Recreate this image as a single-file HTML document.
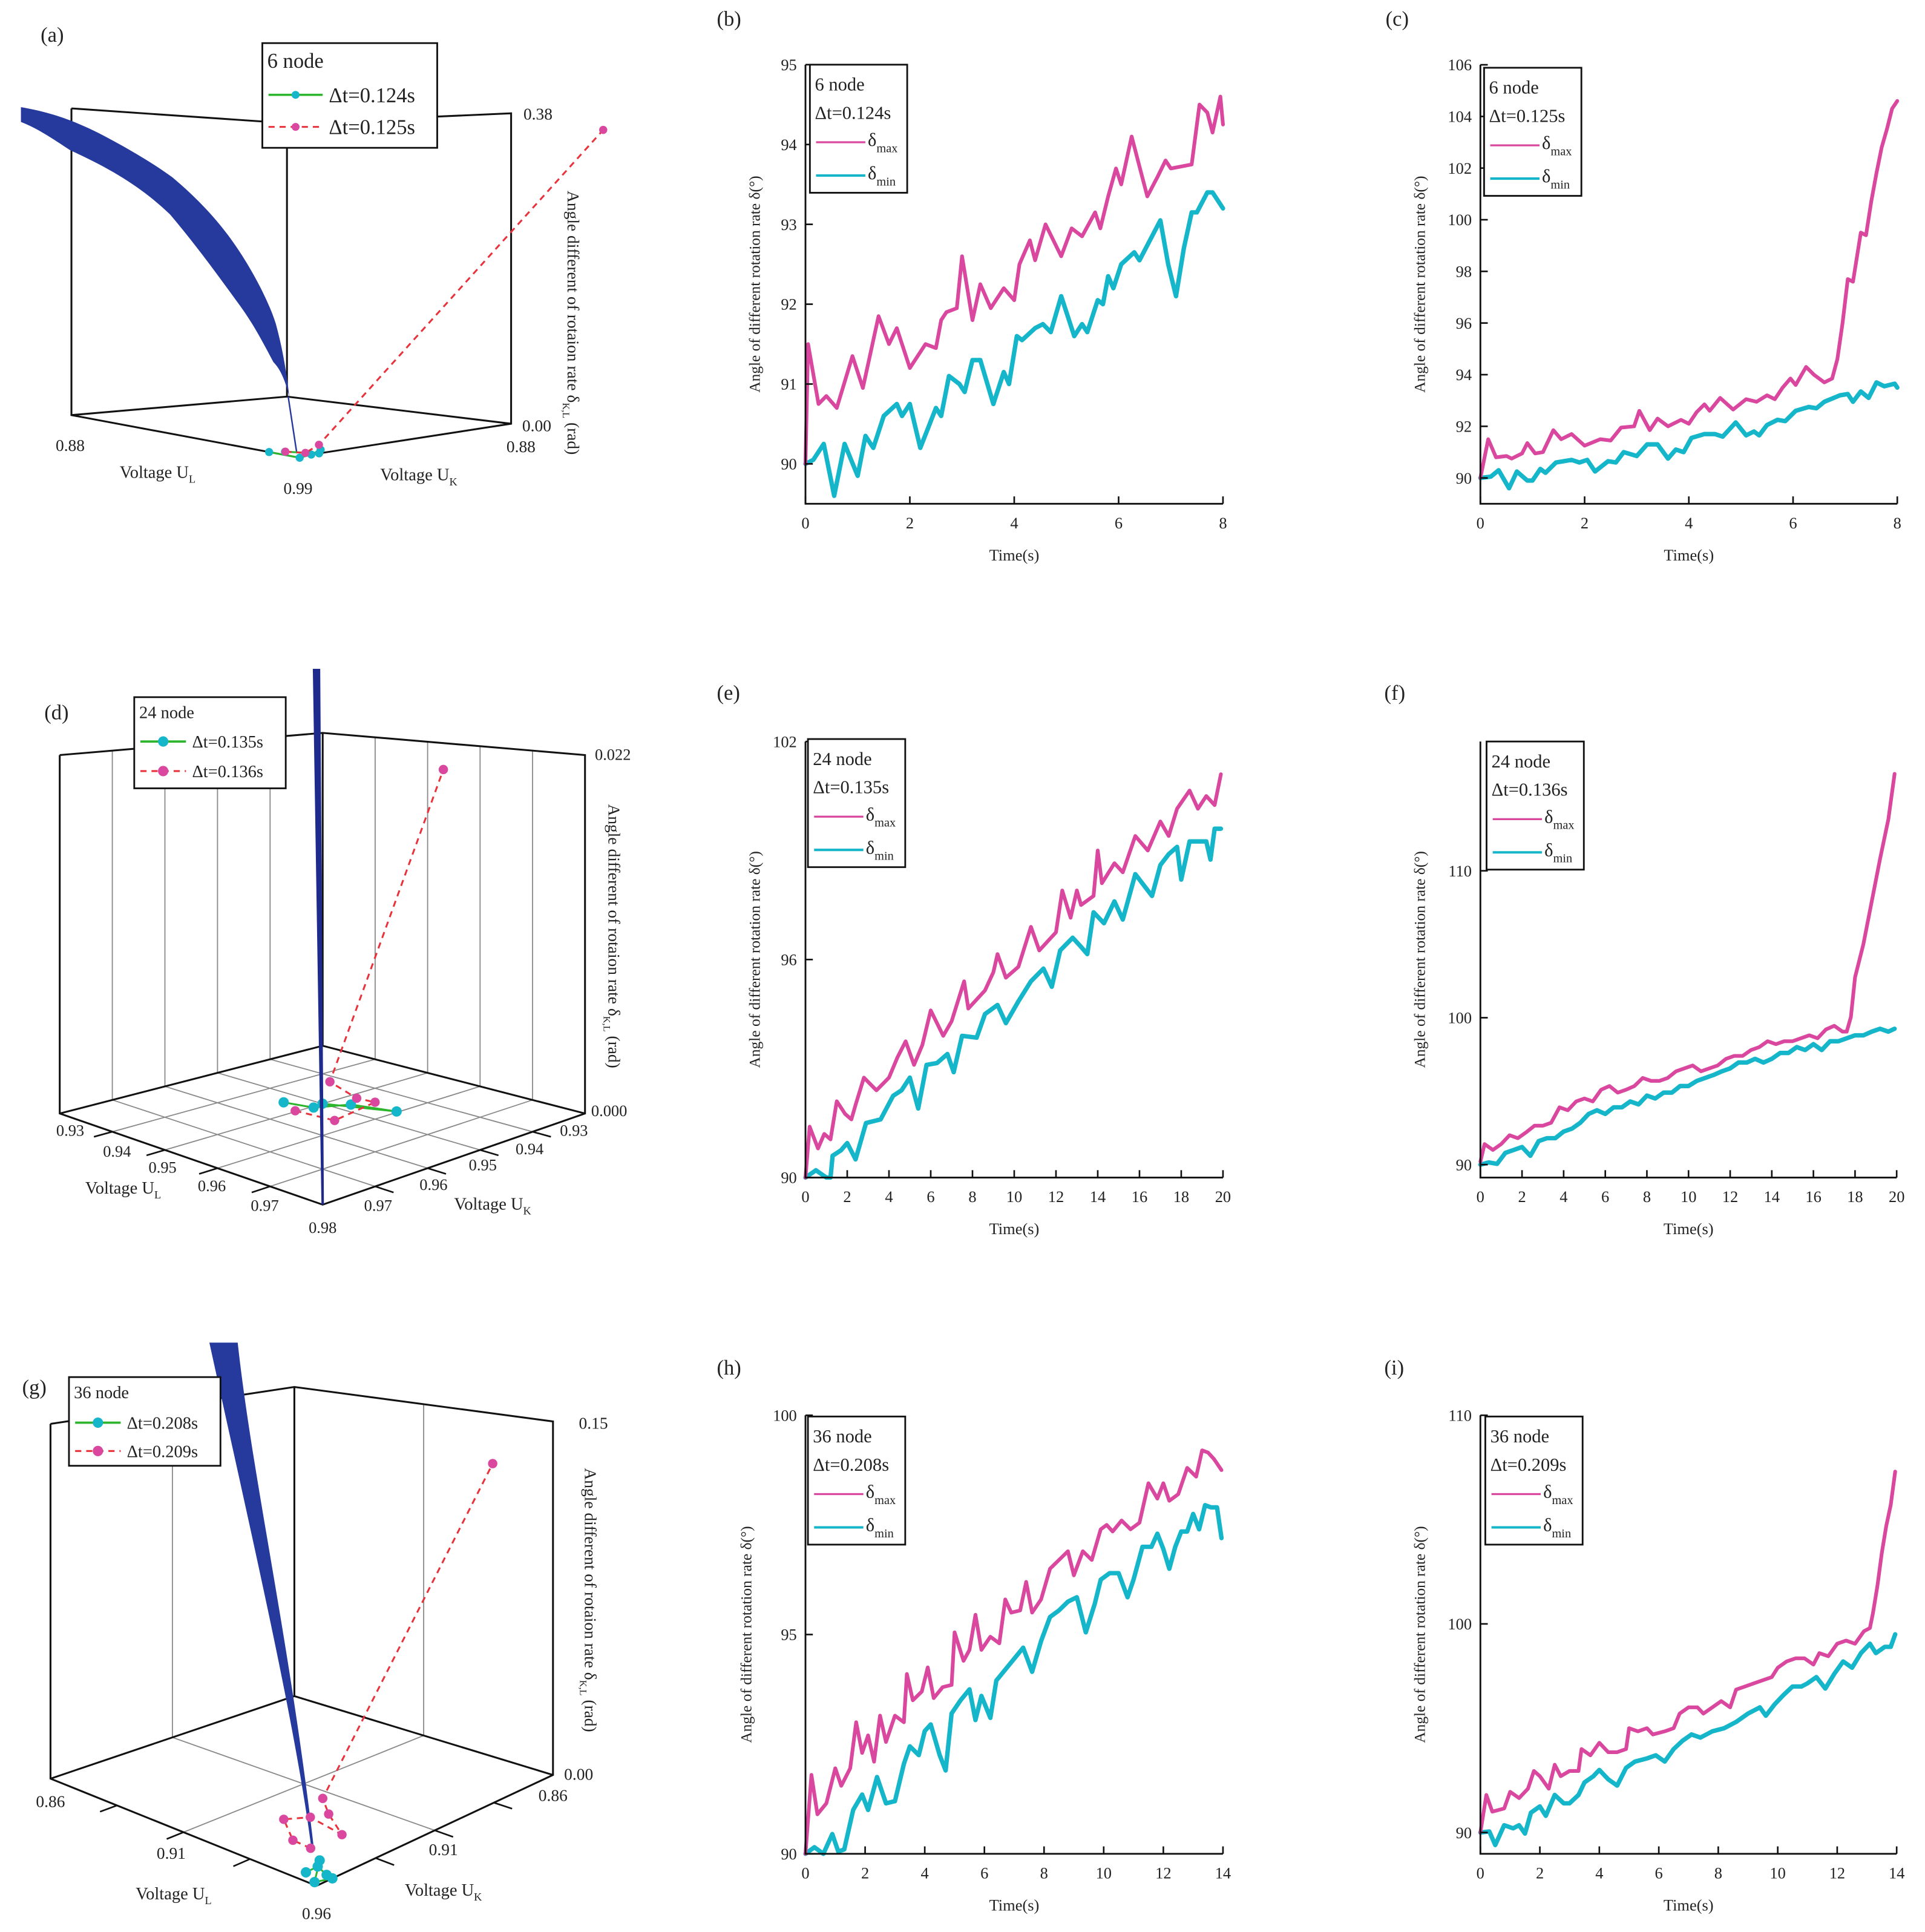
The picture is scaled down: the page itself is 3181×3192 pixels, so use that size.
<!DOCTYPE html>
<html><head><meta charset="utf-8"><style>
html,body{margin:0;padding:0;background:#fff}
svg{display:block;font-family:"Liberation Serif",serif}
</style></head><body>
<svg id="fig" xmlns="http://www.w3.org/2000/svg" width="3181" height="3192" viewBox="0 0 1563 1568.5" preserveAspectRatio="none">
<rect width="1563" height="1568.5" fill="#fff"/>
</svg>
<script>
// ---------- 2D chart data ----------
const bMaxT=[0,0.05,0.25,0.4,0.6,0.9,1.1,1.4,1.6,1.75,2.0,2.3,2.5,2.6,2.7,2.9,3.0,3.2,3.35,3.55,3.8,4.0,4.1,4.3,4.4,4.6,4.9,5.1,5.3,5.55,5.65,5.8,5.95,6.05,6.25,6.55,6.75,6.9,7.0,7.4,7.55,7.7,7.8,7.95,8.0];
const bMaxV=[90.0,91.5,90.75,90.85,90.7,91.35,90.95,91.85,91.5,91.7,91.2,91.5,91.45,91.8,91.9,91.95,92.6,91.8,92.25,91.95,92.2,92.05,92.5,92.8,92.55,93.0,92.6,92.95,92.85,93.15,92.95,93.35,93.7,93.5,94.1,93.35,93.6,93.8,93.7,93.75,94.5,94.4,94.15,94.6,94.25];
const bMinT=[0,0.15,0.35,0.55,0.75,1.0,1.15,1.3,1.5,1.75,1.85,2.0,2.2,2.5,2.6,2.75,2.95,3.05,3.2,3.35,3.6,3.8,3.9,4.05,4.15,4.4,4.55,4.7,4.9,5.15,5.3,5.4,5.6,5.7,5.8,5.9,6.05,6.3,6.4,6.6,6.8,6.95,7.1,7.25,7.4,7.5,7.7,7.8,8.0];
const bMinV=[90,90.05,90.25,89.6,90.25,89.85,90.35,90.2,90.6,90.75,90.6,90.75,90.2,90.7,90.6,91.1,91.0,90.9,91.3,91.3,90.75,91.15,91.0,91.6,91.55,91.7,91.75,91.65,92.1,91.6,91.75,91.65,92.05,92.0,92.35,92.2,92.5,92.65,92.55,92.8,93.05,92.5,92.1,92.7,93.15,93.15,93.4,93.4,93.2];

const cMaxT=[0,0.15,0.3,0.5,0.6,0.8,0.9,1.05,1.2,1.4,1.55,1.75,2.0,2.3,2.5,2.7,2.95,3.05,3.25,3.4,3.6,3.85,4.0,4.15,4.3,4.4,4.6,4.85,5.1,5.3,5.5,5.65,5.8,5.95,6.05,6.25,6.4,6.6,6.75,6.85,6.95,7.05,7.15,7.3,7.4,7.5,7.6,7.7,7.8,7.9,8.0];
const cMaxV=[90.0,91.5,90.8,90.85,90.75,90.95,91.35,90.95,91.0,91.85,91.5,91.7,91.25,91.5,91.45,91.95,92.0,92.6,91.85,92.3,92.0,92.25,92.1,92.55,92.85,92.6,93.1,92.65,93.05,92.95,93.2,93.05,93.5,93.85,93.6,94.3,94.0,93.7,93.85,94.6,96.0,97.7,97.6,99.5,99.4,100.7,101.8,102.8,103.5,104.3,104.6];
const cMinT=[0,0.2,0.35,0.55,0.7,0.9,1.0,1.15,1.25,1.45,1.75,1.9,2.05,2.2,2.45,2.6,2.75,3.0,3.2,3.4,3.6,3.75,3.9,4.05,4.3,4.5,4.65,4.9,5.1,5.25,5.35,5.5,5.7,5.85,6.05,6.3,6.45,6.6,6.9,7.05,7.15,7.3,7.45,7.6,7.75,7.95,8.0];
const cMinV=[90,90.05,90.3,89.6,90.25,89.9,89.9,90.35,90.2,90.6,90.7,90.6,90.7,90.25,90.65,90.6,91.0,90.85,91.3,91.3,90.75,91.1,91.0,91.55,91.7,91.7,91.6,92.15,91.65,91.8,91.65,92.05,92.25,92.2,92.6,92.75,92.7,92.95,93.2,93.25,92.95,93.35,93.1,93.7,93.55,93.65,93.5];

const eMaxT=[0,0.2,0.6,0.9,1.2,1.5,1.9,2.2,2.4,2.8,3.4,4.0,4.4,4.8,5.2,5.6,6.0,6.6,7.0,7.6,7.8,8.6,9.0,9.2,9.6,10.2,10.8,11.2,12.0,12.3,12.7,13.0,13.2,13.8,14.0,14.2,14.8,15.2,15.8,16.4,17.0,17.4,17.8,18.4,18.8,19.2,19.6,19.9];
const eMaxV=[90.0,91.4,90.8,91.2,91.05,92.1,91.75,91.6,92.0,92.75,92.4,92.75,93.3,93.75,93.1,93.65,94.6,93.9,94.3,95.4,94.65,95.15,95.65,96.15,95.5,95.8,96.9,96.25,96.75,97.9,97.15,97.9,97.5,97.75,99.0,98.1,98.65,98.4,99.4,99.0,99.8,99.4,100.15,100.65,100.15,100.5,100.25,101.1];
const eMinT=[0,0.5,1.0,1.2,1.3,1.7,2.0,2.4,2.9,3.6,4.2,4.6,5.0,5.4,5.8,6.3,6.8,7.1,7.5,8.2,8.6,9.2,9.6,10.2,10.8,11.4,11.8,12.2,12.8,13.2,13.5,13.8,14.3,14.8,15.2,15.8,16.4,16.6,17.0,17.4,17.8,18.0,18.4,18.8,19.2,19.4,19.6,19.9];
const eMinV=[90,90.2,90.0,90.0,90.6,90.75,90.95,90.5,91.5,91.6,92.25,92.4,92.75,91.9,93.1,93.15,93.4,92.9,93.9,93.85,94.5,94.75,94.25,94.85,95.4,95.75,95.25,96.25,96.6,96.35,96.15,97.3,97.0,97.6,97.1,98.35,97.9,97.75,98.6,98.9,99.1,98.2,99.25,99.25,99.25,98.75,99.6,99.6];

const fMaxT=[0,0.2,0.6,1.0,1.4,1.8,2.2,2.6,3.0,3.4,3.8,4.2,4.6,5.0,5.4,5.8,6.2,6.6,7.0,7.4,7.8,8.2,8.6,9.0,9.4,9.8,10.2,10.6,11.0,11.4,11.8,12.2,12.6,13.0,13.4,13.8,14.2,14.6,15.0,15.4,15.8,16.2,16.6,17.0,17.4,17.6,17.8,18.0,18.4,18.8,19.2,19.6,19.9];
const fMaxV=[90.2,91.4,91.0,91.4,92.0,91.8,92.2,92.65,92.65,92.85,93.9,93.7,94.3,94.5,94.3,95.1,95.35,94.9,95.1,95.35,95.9,95.7,95.7,95.9,96.35,96.55,96.75,96.35,96.55,96.75,97.2,97.4,97.4,97.8,98.0,98.4,98.2,98.4,98.4,98.6,98.8,98.6,99.2,99.45,99.05,99.05,100.05,102.75,105.0,107.9,110.8,113.5,116.6];
const fMinT=[0,0.4,0.8,1.2,1.6,2.0,2.4,2.8,3.2,3.6,4.0,4.4,4.8,5.2,5.6,6.0,6.4,6.8,7.2,7.6,8.0,8.4,8.8,9.2,9.6,10.0,10.4,10.8,11.2,11.6,12.0,12.4,12.8,13.2,13.6,14.0,14.4,14.8,15.2,15.6,16.0,16.4,16.8,17.2,17.6,18.0,18.4,18.8,19.2,19.6,19.9];
const fMinV=[90.0,90.15,90.05,90.8,91.0,91.2,90.6,91.6,91.8,91.8,92.25,92.45,92.85,93.45,93.7,93.45,93.9,93.9,94.3,94.1,94.7,94.5,94.9,94.9,95.35,95.35,95.7,95.9,96.1,96.35,96.55,96.95,96.95,97.2,96.95,97.2,97.6,97.6,98.0,97.8,98.2,97.8,98.4,98.4,98.6,98.8,98.8,99.05,99.25,99.05,99.25];

const hMaxT=[0,0.2,0.4,0.7,1.0,1.2,1.5,1.7,1.9,2.1,2.3,2.5,2.7,3.0,3.3,3.4,3.6,3.9,4.1,4.3,4.6,4.9,5.0,5.3,5.5,5.7,5.9,6.2,6.5,6.7,6.9,7.2,7.4,7.6,7.9,8.2,8.5,8.8,9.0,9.3,9.6,9.9,10.1,10.3,10.6,10.9,11.2,11.5,11.8,12.0,12.2,12.5,12.8,13.1,13.3,13.5,13.7,13.95];
const hMaxV=[90.0,91.8,90.9,91.15,91.95,91.55,91.95,93.0,92.3,92.7,92.1,93.15,92.55,93.15,93.0,94.1,93.5,93.7,94.25,93.55,93.8,93.85,95.05,94.4,94.65,95.45,94.65,94.95,94.8,95.8,95.5,95.55,96.2,95.5,95.8,96.5,96.7,96.9,96.35,96.9,96.7,97.4,97.5,97.35,97.6,97.4,97.55,98.45,98.1,98.45,98.05,98.2,98.8,98.6,99.2,99.15,99.0,98.75];
const hMinT=[0,0.3,0.6,0.9,1.1,1.3,1.6,1.9,2.1,2.4,2.7,3.0,3.3,3.5,3.8,4.0,4.2,4.5,4.7,4.9,5.2,5.5,5.7,5.9,6.2,6.4,6.7,7.0,7.3,7.6,7.9,8.2,8.5,8.8,9.1,9.4,9.7,9.9,10.2,10.5,10.8,11.0,11.3,11.6,11.8,12.0,12.2,12.4,12.6,12.8,13.0,13.2,13.4,13.6,13.8,13.95];
const hMinV=[90.0,90.15,90.0,90.45,90.05,90.1,91.0,91.35,91.0,91.75,91.15,91.2,92.05,92.45,92.25,92.8,92.95,92.25,91.9,93.2,93.5,93.75,93.05,93.6,93.1,93.95,94.2,94.45,94.7,94.15,94.85,95.4,95.55,95.75,95.85,95.05,95.7,96.25,96.4,96.4,95.85,96.25,97.0,97.0,97.3,96.95,96.5,97.0,97.35,97.35,97.75,97.4,97.95,97.9,97.9,97.2];

const iMaxT=[0,0.2,0.4,0.8,1.0,1.3,1.6,1.8,2.0,2.3,2.5,2.7,3.0,3.3,3.4,3.7,4.0,4.3,4.6,4.9,5.0,5.3,5.6,5.8,6.2,6.5,6.7,7.0,7.3,7.5,7.8,8.1,8.4,8.6,8.9,9.2,9.5,9.8,10.0,10.3,10.6,10.9,11.2,11.4,11.7,12.0,12.3,12.6,12.9,13.1,13.2,13.35,13.5,13.65,13.8,13.95];
const iMaxV=[90.0,91.8,91.0,91.15,91.95,91.65,92.1,92.95,92.7,92.1,93.25,92.7,92.95,92.95,94.0,93.7,94.3,93.85,93.85,94.0,95.0,94.85,95.0,94.7,94.85,95.0,95.7,96.0,96.0,95.7,96.0,96.3,96.0,96.85,97.0,97.15,97.3,97.45,97.9,98.2,98.35,98.35,98.05,98.6,98.45,99.05,99.2,99.05,99.65,99.8,100.5,101.8,103.4,104.7,105.7,107.3];
const iMinT=[0,0.3,0.5,0.8,1.1,1.3,1.5,1.7,2.0,2.2,2.5,2.8,3.0,3.3,3.5,3.8,4.0,4.3,4.6,4.9,5.2,5.6,5.9,6.2,6.5,6.8,7.1,7.4,7.8,8.2,8.6,9.0,9.4,9.6,9.9,10.2,10.5,10.8,11.0,11.3,11.6,11.9,12.2,12.5,12.8,13.1,13.3,13.6,13.8,13.95];
const iMinV=[90.0,90.05,89.4,90.35,90.2,90.35,89.95,90.95,91.25,90.8,91.8,91.4,91.4,91.8,92.4,92.7,93.0,92.55,92.25,93.1,93.4,93.55,93.7,93.4,94.0,94.4,94.7,94.55,94.85,95.0,95.3,95.7,96.0,95.6,96.15,96.6,97.0,97.0,97.15,97.45,96.9,97.6,98.2,97.9,98.6,99.05,98.6,98.9,98.9,99.5];

// tick labels
const xTicks8=[0,2,4,6,8];
const xTicks20=[0,2,4,6,8,10,12,14,16,18,20];
const xTicks14=[0,2,4,6,8,10,12,14];
const bYTicks=[90,91,92,93,94,95];
const cYTicks=[90,92,94,96,98,100,102,104,106];
const eYTicks=[90,96,102];
const fYTicks=[90,100,110];
const hYTicks=[90,95,100];
const iYTicks=[90,100,110];

// ---------- 3D data (uL, uK, delta) ----------
const aCyanUL=[0.977,0.992,0.99,0.985,0.99,0.98];
const aCyanUK=[0.99,0.99,0.982,0.972,0.978,0.985];
const aCyanD=[0,0,0,0,0,0];
const aMagUL=[0.985,0.99,0.988,0.99];
const aMagUK=[0.99,0.985,0.976,0.833];
const aMagD=[0.004,0.003,0.0085,0.35];

const dCyanUL=[0.9459,0.9504,0.953,0.9597,0.95];
const dCyanUK=[0.9533,0.9521,0.9476,0.9456,0.95];
const dCyanD=[0,0,0,0,0];
const dMagUL=[0.9497,0.9565,0.9546,0.9515,0.9476,0.98];
const dMagUK=[0.9549,0.9542,0.9446,0.945,0.9462,0.957];
const dMagD=[0,0,0,0,0.0008,0.0229];

const gCyanUL=[0.952,0.9518,0.9573,0.96,0.958,0.9495];
const gCyanUK=[0.9555,0.9503,0.9527,0.9533,0.9586,0.9469];
const gCyanD=[0,0,0,0,0,0];
const gMagUL=[0.956,0.948,0.945,0.955,0.958,0.957,0.957,0.96];
const gMagUK=[0.958,0.9565,0.957,0.957,0.947,0.9515,0.954,0.8855];
const gMagD=[0.0119,0.0112,0.0183,0.023,0.0134,0.0228,0.0298,0.14];

const NS='http://www.w3.org/2000/svg';
const svg=document.getElementById('fig');
const MAG='#D9479F', CYA='#15B5CA';
function el(tag,attrs,parent){const e=document.createElementNS(NS,tag);for(const k in attrs)e.setAttribute(k,attrs[k]);(parent||svg).appendChild(e);return e;}
function txt(s,x,y,size,anchor,parent){const t=el('text',{x:x,y:y,'font-size':size,'text-anchor':anchor||'start',fill:'#222'},parent);t.textContent=s;return t;}

function panelLabel(s,x,y){
  const t=txt(s,x,y,17,'start');
  
  
}

function chart2d(cfg,maxT,maxV,minT,minV,xt,yt){
  const g=el('g',{});
  
  
  const sx=t=>cfg.x0+(t-0)/(cfg.tMax)*(cfg.x1-cfg.x0);
  const sy=v=>cfg.yBot-(v-cfg.vBot)/(cfg.vTop-cfg.vBot)*(cfg.yBot-cfg.yTop);
  function series(T,V,col,w,nm){
    let pts=[];const n=Math.min(T.length,V.length);
    for(let i=0;i<n;i++)pts.push(sx(T[i]).toFixed(2)+','+sy(V[i]).toFixed(2));
    const p=el('polyline',{points:pts.join(' '),fill:'none',stroke:col,'stroke-width':w,'stroke-linejoin':'round','stroke-linecap':'round'},g);
    
    
  }
  series(minT,minV,CYA,3.6,'delta-min-line');
  series(maxT,maxV,MAG,3.0,'delta-max-line');
  const ax=el('path',{d:`M${cfg.x0},${cfg.yTop}V${cfg.yBot}H${cfg.x1}`,fill:'none',stroke:'#111','stroke-width':1.4},g);
  
  
  xt.forEach(t=>{
    el('line',{x1:sx(t),x2:sx(t),y1:cfg.yBot,y2:cfg.yBot-6,stroke:'#111','stroke-width':1.3},g);
    const l=txt(String(t),sx(t),cfg.yBot+20,13,'middle',g);
    
    
  });
  yt.forEach(v=>{
    el('line',{x1:cfg.x0,x2:cfg.x0+6,y1:sy(v),y2:sy(v),stroke:'#111','stroke-width':1.3},g);
    const l=txt(String(v),cfg.x0-7,sy(v)+4.5,13,'end',g);
    
    
  });
  const xtl=txt('Time(s)',(cfg.x0+cfg.x1)/2,cfg.yBot+46,13,'middle',g);
  
  
  const cy=(cfg.yTop+cfg.yBot)/2, cx=cfg.x0-cfg.tOff;
  const yl=el('text',{x:cx,y:cy,'font-size':12.5,'text-anchor':'middle',fill:'#222',transform:`rotate(-90 ${cx} ${cy})`},g);
  yl.textContent='Angle of different rotation rate δ(°)';
  
  
  const lx=cfg.lx, ly=cfg.ly;
  const lg=el('g',{},g);
  
  
  el('rect',{x:lx,y:ly,width:79,height:104,fill:'#fff',stroke:'#111','stroke-width':1.4},lg);
  txt(cfg.node,lx+4,ly+21,15,'start',lg);
  txt(cfg.dt,lx+4,ly+44,15,'start',lg);
  el('line',{x1:lx+5,x2:lx+45,y1:ly+63,y2:ly+63,stroke:MAG,'stroke-width':1.6},lg);
  el('line',{x1:lx+5,x2:lx+45,y1:ly+90,y2:ly+90,stroke:CYA,'stroke-width':2},lg);
  [['max',ly+66],['min',ly+93]].forEach(([s,y])=>{
    const t=el('text',{x:lx+47,y:y,'font-size':15,fill:'#222'},lg);
    t.appendChild(document.createTextNode('δ'));
    const sb=el('tspan',{'font-size':10,dy:5},t);sb.textContent=s;
    
    
  });
}

chart2d({name:'chart-b',x0:654,x1:993,yTop:52.5,yBot:409,vTop:95,vBot:89.5,tMax:8,tOff:37,lx:657.6,ly:52.5,node:'6 node',dt:'Δt=0.124s'},bMaxT,bMaxV,bMinT,bMinV,xTicks8,bYTicks);
chart2d({name:'chart-c',x0:1202,x1:1540.5,yTop:52.6,yBot:409,vTop:106,vBot:89.0,tMax:8,tOff:45,lx:1205,ly:55,node:'6 node',dt:'Δt=0.125s'},cMaxT,cMaxV,cMinT,cMinV,xTicks8,cYTicks);
chart2d({name:'chart-e',x0:654,x1:993,yTop:602,yBot:956,vTop:102,vBot:90,tMax:20,tOff:37,lx:656,ly:600,node:'24 node',dt:'Δt=0.135s'},eMaxT,eMaxV,eMinT,eMinV,xTicks20,eYTicks);
chart2d({name:'chart-f',x0:1202,x1:1540,yTop:602,yBot:956,vTop:118.8,vBot:89.12,tMax:20,tOff:45,lx:1207,ly:602,node:'24 node',dt:'Δt=0.136s'},fMaxT,fMaxV,fMinT,fMinV,xTicks20,fYTicks);
chart2d({name:'chart-h',x0:654,x1:993,yTop:1149,yBot:1505,vTop:100,vBot:90,tMax:14,tOff:44,lx:656,ly:1150,node:'36 node',dt:'Δt=0.208s'},hMaxT,hMaxV,hMinT,hMinV,xTicks14,hYTicks);
chart2d({name:'chart-i',x0:1202,x1:1540,yTop:1149,yBot:1505,vTop:110,vBot:88.98,tMax:14,tOff:45,lx:1206,ly:1150,node:'36 node',dt:'Δt=0.209s'},iMaxT,iMaxV,iMinT,iMinV,xTicks14,iYTicks);

// ---------- 3D panels ----------
function make3d(pn){
  const g=el('g',{});
  
  
  pn.g=g;
  pn.P=function(uL,uK,d){
    const a=(pn.uMax-uL)/pn.range,b=(pn.uMax-uK)/pn.range;
    const w=[(1-a)*(1-b),a*(1-b),a*b,(1-a)*b];
    const C=[pn.F,pn.L,pn.B,pn.R],H=pn.H;
    let x=0,y=0,h=0;for(let i=0;i<4;i++){x+=w[i]*C[i][0];y+=w[i]*C[i][1];h+=w[i]*H[i];}
    return [x,y-h*d/pn.dMax];
  };
  return pn;
}
function line3(pn,p,q,col,w,nm){
  const l=el('line',{x1:p[0],y1:p[1],x2:q[0],y2:q[1],stroke:col,'stroke-width':w},pn.g);
  if(nm){}
  return l;
}
function box3(pn){
  const lo=pn.uMax-pn.range,hi=pn.uMax,P=pn.P,D=pn.dMax;
  const Lb=P(lo,hi,0),Bb=P(lo,lo,0),Rb=P(hi,lo,0),Fb=P(hi,hi,0);
  const Lt=P(lo,hi,D),Bt=P(lo,lo,D),Rt=P(hi,lo,D);
  const pth=el('path',{d:`M${Lt}L${Lb}L${Fb}L${Rb}L${Rt}L${Bt}L${Lt}M${Lb}L${Bb}L${Rb}M${Bb}L${Bt}`,fill:'none',stroke:'#111','stroke-width':1.5},pn.g);
  
  
}
function grid3(pn,vals){
  const lo=pn.uMax-pn.range,hi=pn.uMax,P=pn.P,D=pn.dMax;
  vals.forEach(v=>{
    line3(pn,P(v,hi,0),P(v,lo,0),'#8a8a8a',0.9,'grid-line');
    line3(pn,P(hi,v,0),P(lo,v,0),'#8a8a8a',0.9,'grid-line');
    line3(pn,P(lo,v,0),P(lo,v,D),'#8a8a8a',0.9,'grid-line');
    line3(pn,P(v,lo,0),P(v,lo,D),'#8a8a8a',0.9,'grid-line');
  });
}
function ticks3(pn,vals){
  const hi=pn.uMax,P=pn.P,e=pn.range*0.07;
  vals.forEach(v=>{
    line3(pn,P(v,hi,0),P(v,hi+e,0),'#111',1.3,'tick');
    line3(pn,P(hi,v,0),P(hi+e,v,0),'#111',1.3,'tick');
  });
}
function series3(pn,UL,UK,D,lineCol,dash,dotCol,r,nm){
  const pts=[];const n=Math.min(UL.length,UK.length,D.length);
  for(let i=0;i<n;i++)pts.push(pn.P(UL[i],UK[i],D[i]));
  const pl=el('polyline',{points:pts.map(p=>p.join(',')).join(' '),fill:'none',stroke:lineCol,'stroke-width':1.5,'stroke-dasharray':dash},pn.g);
  
  
  pts.forEach(p=>{
    const c=el('circle',{cx:p[0],cy:p[1],r:r,fill:dotCol},pn.g);
    
    
  });
}
function label(pn,s,x,y,size,anchor,nm){const t=txt(s,x,y,size,anchor||'middle',pn.g);return t;}
function voltLabel(pn,sub,x,y,nm){
  const t=el('text',{x:x,y:y,'font-size':14,'text-anchor':'middle',fill:'#222'},pn.g);
  t.appendChild(document.createTextNode('Voltage U'));
  const s=el('tspan',{'font-size':9,dy:4},t);s.textContent=sub;
  
}
function zTitle(pn,x,y){
  const t=el('text',{x:x,y:y,'font-size':13.5,'text-anchor':'middle',fill:'#222',transform:`rotate(90 ${x} ${y})`},pn.g);
  t.appendChild(document.createTextNode('Angle different of rotaion rate δ'));
  const s=el('tspan',{'font-size':8,dy:4},t);s.textContent='K,L';
  const s2=el('tspan',{dy:-4},t);s2.textContent=' (rad)';
  
}
function legend3(pn,x,y,w,h,fs,node,t1,t2,rowY1,rowY2,lw,r){
  const g=el('g',{},pn.g);
  
  
  el('rect',{x:x,y:y,width:w,height:h,fill:'#fff',stroke:'#111','stroke-width':1.4},g);
  txt(node,x+4,y+fs+3,fs,'start',g);
  el('line',{x1:x+5,x2:x+5+lw,y1:rowY1,y2:rowY1,stroke:'#2DB52D','stroke-width':1.8},g);
  el('circle',{cx:x+5+lw/2,cy:rowY1,r:r,fill:CYA},g);
  el('line',{x1:x+5,x2:x+5+lw,y1:rowY2,y2:rowY2,stroke:'#E8323C','stroke-width':1.5,'stroke-dasharray':'5,4'},g);
  el('circle',{cx:x+5+lw/2,cy:rowY2,r:r,fill:MAG},g);
  txt(t1,x+lw+10,rowY1+fs*0.35,fs,'start',g);
  txt(t2,x+lw+10,rowY2+fs*0.35,fs,'start',g);
}

// (a)
const pa=make3d({name:'chart-a-3d',uMax:0.99,range:0.11,dMax:0.38,F:[240,371],L:[58,337],B:[233,322],R:[415,344],H:[265,249,222,252]});
box3(pa);
{const s=el('path',{d:'M17,87 C40,91 58,97 80,108 C105,121 125,133 140,144 C165,165 182,185 195,205 C210,228 220,250 224,263 C230,285 233,305 235,323 C232,310 228,300 222,294 C212,275 205,262 194,247 C178,225 160,200 138,174 C115,152 90,137 57,122 C42,112 30,104 17,99 Z',fill:'#263A9E'},pa.g);
 
 line3(pa,[234,322],[241,368],'#263A9E',1.2,'surface-edge');}
series3(pa,aCyanUL,aCyanUK,aCyanD,'#2DB52D','',CYA,3.3,'dt-0124');
series3(pa,aMagUL,aMagUK,aMagD,'#E8323C','5,4',MAG,3.3,'dt-0125');
legend3(pa,213,35,142,85,17,'6 node','Δt=0.124s','Δt=0.125s',77,103,44,3.2);
label(pa,'0.88',57,366,13.5);label(pa,'0.99',242,401,13.5);label(pa,'0.88',423,367,13.5);
label(pa,'0.00',424,350,13.5,'start');label(pa,'0.38',425,97,13.5,'start');
voltLabel(pa,'L',128,388,'x-axis-title');voltLabel(pa,'K',340,390,'y-axis-title');
zTitle(pa,461,262);
panelLabel('(a)',33,34);

// (d)
const pd=make3d({name:'chart-d-3d',uMax:0.98,range:0.05,dMax:0.022,F:[262,978],L:[48.5,904],B:[262,849],R:[475,904],H:[320,291,254,291]});
grid3(pd,[0.94,0.95,0.96,0.97]);
box3(pd);
ticks3(pd,[0.94,0.95,0.96,0.97]);
series3(pd,dCyanUL,dCyanUK,dCyanD,'#2DB52D','',CYA,4.2,'dt-0135');
series3(pd,dMagUL,dMagUK,dMagD,'#E8323C','5,4',MAG,3.8,'dt-0136');
{const s=el('polygon',{points:'254,543 260,543 263,978 261,978',fill:'#1E2A8C'},pd.g);
 }
legend3(pd,109,566,123,74,14,'24 node','Δt=0.135s','Δt=0.136s',602,626,37,4.2);
[['0.93',57,922],['0.94',95,939],['0.95',132,952],['0.96',172,967],['0.97',215,983],['0.98',262,1001]].forEach(a=>label(pd,a[0],a[1],a[2],13));
[['0.93',466,922],['0.94',430,937],['0.95',392,950],['0.96',352,966],['0.97',307,983]].forEach(a=>label(pd,a[0],a[1],a[2],13));
label(pd,'0.000',480,906,13,'start');label(pd,'0.022',483,617,13,'start');
voltLabel(pd,'L',100,969,'x-axis-title');voltLabel(pd,'K',400,982,'y-axis-title');
zTitle(pd,494,760);
panelLabel('(d)',36,584);

// (g)
const pg=make3d({name:'chart-g-3d',uMax:0.96,range:0.10,dMax:0.15,F:[257,1531],L:[41,1444],B:[239,1377],R:[449,1441],H:[320,288,251,287]});
grid3(pg,[0.91]);
box3(pg);
ticks3(pg,[0.885,0.91,0.935]);
{const s=el('path',{d:'M170,1090 L193,1090 C205,1200 235,1330 255,1502 L253,1502 C240,1400 205,1250 170,1090 Z',fill:'#263A9E'},pg.g);
 }
series3(pg,gCyanUL,gCyanUK,gCyanD,'#2DB52D','',CYA,4.2,'dt-0208');
series3(pg,gMagUL,gMagUK,gMagD,'#E8323C','5,4',MAG,3.8,'dt-0209');
legend3(pg,56,1118,123,72,14,'36 node','Δt=0.208s','Δt=0.209s',1155,1178,37,4.2);
label(pg,'0.86',41,1467,13.5);label(pg,'0.91',139,1509,13.5);label(pg,'0.96',257,1558,13.5);
label(pg,'0.86',449,1462,13.5);label(pg,'0.91',360,1506,13.5);
label(pg,'0.00',458,1445,13.5,'start');label(pg,'0.15',470,1160,13.5,'start');
voltLabel(pg,'L',141,1542,'x-axis-title');voltLabel(pg,'K',360,1539,'y-axis-title');
zTitle(pg,475,1299);
panelLabel('(g)',18,1132);

panelLabel('(b)',582,21);panelLabel('(c)',1125,21);
panelLabel('(e)',582,568);panelLabel('(f)',1124,568);
panelLabel('(h)',582,1116);panelLabel('(i)',1124,1116);
</script>
</body></html>
